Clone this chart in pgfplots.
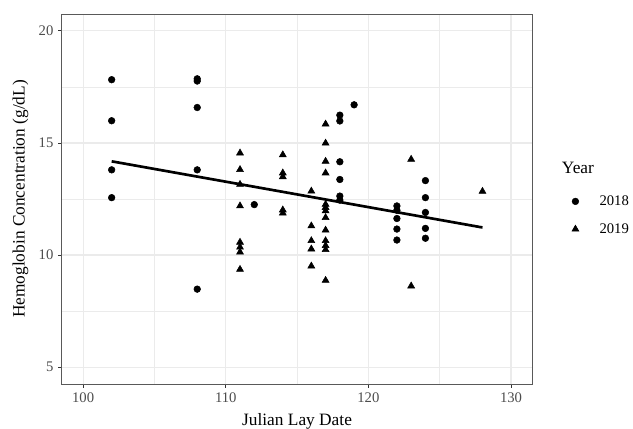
\documentclass[border=0pt]{standalone}
\usepackage{fontspec}
\setmainfont{Liberation Serif}
\usepackage{pgfplots}
\pgfplotsset{compat=1.18}
\definecolor{gridgrey}{gray}{0.92}
\definecolor{bordergrey}{gray}{0.35}
\definecolor{ticktext}{gray}{0.30}

% Hemoglobin by lay date, one table per year
\pgfplotstableread{
x y
102 17.82
102 15.99
102 13.80
102 12.56
108 17.86
108 17.76
108 16.58
108 13.80
108 8.48
112 12.25
118 16.24
118 15.98
118 14.16
118 13.37
118 12.63
118 12.45
119 16.70
122 12.19
122 12.00
122 11.63
122 11.16
122 10.67
124 13.32
124 12.56
124 11.90
124 11.19
124 10.75
}\yeareighteen

\pgfplotstableread{
x y
111 14.55
111 13.81
111 13.15
111 12.19
111 10.57
111 10.35
111 10.13
111 9.36
114 14.47
114 13.66
114 13.49
114 12.01
114 11.87
116 12.85
116 11.30
116 10.64
116 10.27
116 9.51
117 15.84
117 14.99
117 14.18
117 13.66
117 12.26
117 12.12
117 11.97
117 11.67
117 11.11
117 10.64
117 10.42
117 10.24
117 8.87
123 14.27
123 8.62
128 12.84
}\yearnineteen

\begin{document}
\begin{tikzpicture}
\path[use as bounding box] (-46.3pt,-33.75pt) rectangle ++(474.75pt,321.75pt);
\begin{axis}[
  at={(0,0)}, anchor=south west,
  scale only axis,
  width=353pt, height=277.5pt,
  xmin=98.5, xmax=131.5,
  ymin=4.25, ymax=20.75,
  xtick={100,110,120,130},
  ytick={5,10,15,20},
  minor xtick={105,115,125},
  minor ytick={7.5,12.5,17.5},
  grid=both,
  major grid style={gridgrey, line width=0.9pt},
  minor grid style={gridgrey, line width=0.45pt},
  axis line style={bordergrey, line width=0.6pt},
  tick pos=left,
  tick align=outside,
  major tick length=2.75pt,
  minor tick length=0pt,
  tick style={black!80, line width=0.6pt},
  /pgf/number format/assume math mode=true,
  tick label style={font=\fontsize{11}{13}\selectfont, text=ticktext},
  xlabel={Julian Lay Date},
  ylabel={Hemoglobin Concentration (g/dL)},
  every axis x label/.style={at={(axis description cs:0.5,0)}, yshift=-28pt,
    anchor=center, font=\fontsize{13}{15}\selectfont},
  every axis y label/.style={at={(axis description cs:0,0.5)}, xshift=-31pt,
    rotate=90, anchor=center, font=\fontsize{13}{15}\selectfont},
  clip mode=individual,
  legend style={at={(axis description cs:1.075,0.456)}, anchor=west,
    draw=none, fill=none, font=\fontsize{11}{13}\selectfont,
    row sep=8pt,
    /tikz/every odd column/.append style={column sep=13.5pt}},
  legend cell align=left,
]
\addplot[only marks, mark=*, mark size=2.5pt, black] table {\yeareighteen};
\addlegendentry{2018}
\addplot[only marks, mark=triangle*, mark size=3pt, black] table {\yearnineteen};
\addlegendentry{2019}
\addplot[black, line width=2pt, forget plot] coordinates {(102,14.18) (128,11.23)};
\node[anchor=west, font=\fontsize{13}{15}\selectfont, inner sep=0pt]
  at (axis description cs:1,0.585) [xshift=22pt] {Year};
\end{axis}
\end{tikzpicture}
\end{document}
